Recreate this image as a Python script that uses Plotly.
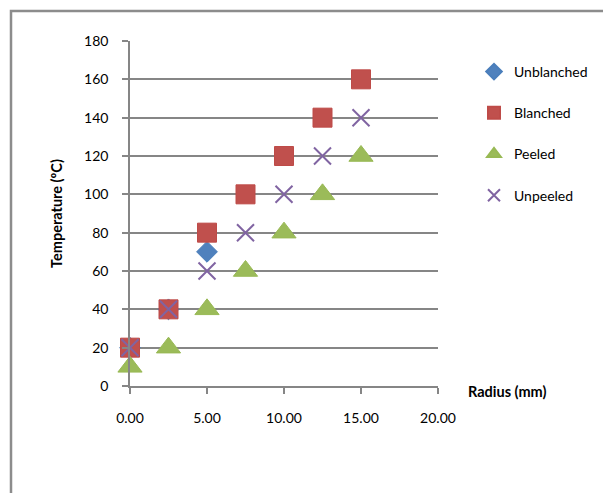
import plotly.graph_objects as go

# Radius positions (mm) and measured temperatures (ºC) for each treatment
radius_unblanched = [0.0, 2.5, 5.0]
temp_unblanched = [20, 40, 70]

radius = [0.0, 2.5, 5.0, 7.5, 10.0, 12.5, 15.0]
temp_blanched = [20, 40, 80, 100, 120, 140, 160]
temp_peeled = [10, 20, 40, 60, 80, 100, 120]
temp_unpeeled = [20, 40, 60, 80, 100, 120, 140]

x_ticks = [0, 5, 10, 15, 20]
y_ticks = [0, 20, 40, 60, 80, 100, 120, 140, 160, 180]

FONT = "Lato, 'Open Sans', sans-serif"
GRID = "#868686"

fig = go.Figure()

fig.add_trace(go.Scatter(
    x=radius_unblanched, y=temp_unblanched, mode="markers", name="Unblanched",
    legendgroup="a", cliponaxis=False,
    marker=dict(symbol="diamond", size=16, color="#4F81BD",
                line=dict(color="#4A7EBB", width=1)),
))
fig.add_trace(go.Scatter(
    x=radius, y=temp_blanched, mode="markers", name="Blanched",
    legendgroup="b", cliponaxis=False,
    marker=dict(symbol="square", size=19, color="#C0504D",
                line=dict(color="#BE4B48", width=1)),
))
fig.add_trace(go.Scatter(
    x=radius, y=temp_peeled, mode="markers", name="Peeled",
    legendgroup="c", cliponaxis=False,
    marker=dict(symbol="triangle-up", size=21, color="#9BBB59",
                line=dict(color="#98B954", width=1)),
))
fig.add_trace(go.Scatter(
    x=radius, y=temp_unpeeled, mode="markers", name="Unpeeled",
    legendgroup="d", cliponaxis=False,
    marker=dict(symbol="x-thin", size=17, color="#8064A2",
                line=dict(color="#8064A2", width=2)),
))

# Outer chart-area frame
fig.add_shape(type="rect", xref="paper", yref="paper",
              x0=(11 - 130) / 308, x1=(640 - 130) / 308,
              y0=(386 - 540) / 345, y1=(386 - 11) / 345,
              line=dict(color="#8C8C8C", width=2.5), layer="below")

fig.update_layout(
    width=603, height=493,
    margin=dict(l=130, r=165, t=41, b=107, autoexpand=False),
    paper_bgcolor="white", plot_bgcolor="white",
    font=dict(family=FONT, size=14, color="#000000"),
    showlegend=True,
    legend=dict(x=(474 - 130) / 308, y=(386 - 56) / 345,
                xanchor="left", yanchor="top",
                font=dict(family=FONT, size=14, color="#000000"),
                itemsizing="constant", itemwidth=30,
                tracegroupgap=20, bgcolor="rgba(0,0,0,0)"),
    xaxis=dict(
        range=[0, 20], tickvals=x_ticks,
        ticktext=[f"{v:.2f}" for v in x_ticks],
        showgrid=False, zeroline=False,
        showline=True, linecolor=GRID, linewidth=1.5,
        ticks="outside", ticklen=6, tickcolor=GRID, tickwidth=1.5,
        ticklabelstandoff=12,
        tickfont=dict(family=FONT, size=14),
    ),
    yaxis=dict(
        range=[0, 180], tickvals=y_ticks,
        showgrid=True, gridcolor=GRID, gridwidth=1.8, zeroline=False,
        showline=True, linecolor=GRID, linewidth=1.5,
        ticks="outside", ticklen=6, tickcolor=GRID, tickwidth=1.5,
        ticklabelstandoff=11,
        tickfont=dict(family=FONT, size=14),
        title=dict(text="<b>Temperature (ºC)</b>", standoff=18,
                   font=dict(family=FONT, size=14.5)),
    ),
    annotations=[dict(
        text="<b>Radius (mm)</b>", xref="paper", yref="paper",
        x=(466 - 130) / 308, y=(386 - 391) / 345,
        xanchor="left", yanchor="middle", showarrow=False,
        font=dict(family=FONT, size=14.5),
    )],
)

fig.write_html("out.html")
